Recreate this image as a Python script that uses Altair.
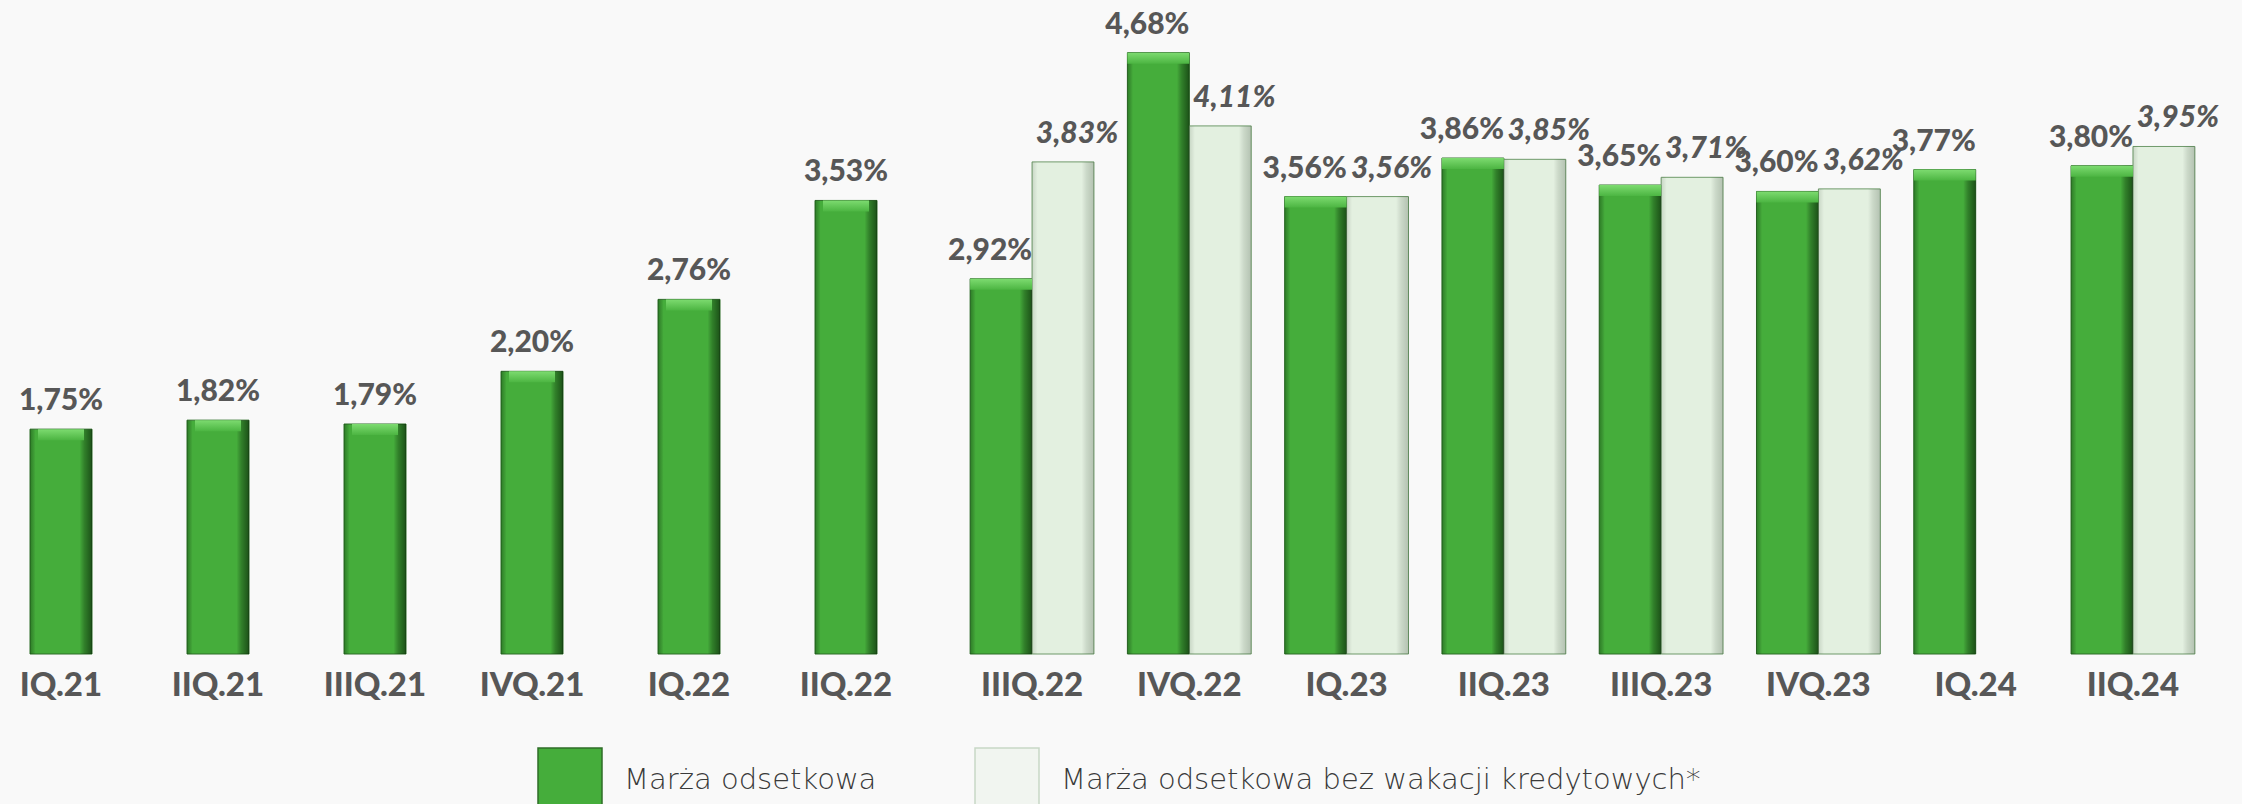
import altair as alt
import pandas as pd

# ---- data ----
categories = ["IQ.21", "IIQ.21", "IIIQ.21", "IVQ.21", "IQ.22", "IIQ.22",
              "IIIQ.22", "IVQ.22", "IQ.23", "IIQ.23", "IIIQ.23", "IVQ.23",
              "IQ.24", "IIQ.24"]
marza = [1.75, 1.82, 1.79, 2.20, 2.76, 3.53,
         2.92, 4.68, 3.56, 3.86, 3.65, 3.60, 3.77, 3.80]
bez_wakacji = [None, None, None, None, None, None,
               3.83, 4.11, 3.56, 3.85, 3.71, 3.62, None, 3.95]
series_names = ["Marża odsetkowa", "Marża odsetkowa bez wakacji kredytowych*"]
n_before = 6  # quarters before the credit-holiday comparison starts

rows = []
for i, c in enumerate(categories):
    grp = "pre" if i < n_before else "post"
    rows.append(dict(cat=c, series=series_names[0], value=marza[i], grp=grp))
    if bez_wakacji[i] is not None:
        rows.append(dict(cat=c, series=series_names[1], value=bez_wakacji[i], grp=grp))
df = pd.DataFrame(rows)
df["label"] = df["value"].map(lambda v: f"{v:.2f}".replace(".", ",") + "%")

left_cats = categories[:n_before]
right_cats = categories[n_before:]

DARK = "#45ad3b"
LIGHT = "#e3f0e0"
TXT = "#575757"
FONT_B = "Lato"
W_B = 900

y_enc = alt.Y("value:Q", scale=alt.Scale(domain=[0, 5.09], nice=False, zero=True), axis=None)
color_enc = alt.Color(
    "series:N",
    scale=alt.Scale(domain=series_names, range=[DARK, LIGHT]),
    legend=alt.Legend(
        title=None, orient="none", legendX=537, legendY=747, direction="horizontal",
        symbolType="square", symbolSize=4096, symbolStrokeWidth=1.5,
        symbolStrokeColor="#3d6b38", symbolOpacity=1,
        labelFont="DejaVu Sans", labelFontWeight=300, labelFontSize=29, labelColor="#3a3a3a",
        labelOffset=21, columnPadding=95, padding=0, labelLimit=900,
    ),
)
stroke_enc = alt.Stroke("series:N", scale=alt.Scale(domain=series_names, range=["#2f6e29", "#6f9a6a"]), legend=None)
opac_enc = alt.Opacity("series:N", scale=alt.Scale(domain=series_names, range=[1.0, 0.35]), legend=None)

shade = alt.LinearGradient(
    gradient="linear", x1=0, x2=1, y1=0, y2=0,
    stops=[
        alt.GradientStop(color="rgba(0,40,0,0.35)", offset=0),
        alt.GradientStop(color="rgba(0,0,0,0)", offset=0.09),
        alt.GradientStop(color="rgba(0,0,0,0)", offset=0.80),
        alt.GradientStop(color="rgba(0,20,0,0.30)", offset=0.88),
        alt.GradientStop(color="rgba(0,20,0,0.60)", offset=1),
    ],
)
highlight = alt.LinearGradient(
    gradient="linear", x1=0, x2=0, y1=0, y2=1,
    stops=[
        alt.GradientStop(color="#7ddb70", offset=0),
        alt.GradientStop(color="#4cb542", offset=1),
    ],
)

base = alt.Chart(df)
bar_w = 62

# ---- left group: single bars, centred in the band ----
x_left = alt.X("cat:N", sort=left_cats, axis=None,
               scale=alt.Scale(domain=left_cats, range=[-17.5, 924.5], paddingInner=0, paddingOuter=0))
left = base.transform_filter(alt.datum.grp == "pre")
left_layer = alt.layer(
    left.mark_bar(width=bar_w, strokeWidth=1).encode(x=x_left, y=y_enc, color=color_enc, stroke=stroke_enc),
    left.mark_bar(width=bar_w, fill=shade).encode(x=x_left, y=y_enc),
    left.mark_bar(width=bar_w - 16, fill=highlight, y2Offset=11).encode(x=x_left, y=y_enc, y2=alt.Y2("value:Q")),
    left.mark_text(dy=-19, baseline="alphabetic", font=FONT_B, fontWeight=W_B, fontSize=30, color=TXT)
        .encode(x=x_left, y=y_enc, text="label:N"),
    left.mark_text(dy=42, baseline="alphabetic", font=FONT_B, fontWeight=W_B, fontSize=33, color=TXT)
        .encode(x=x_left, y=alt.datum(0), text="cat:N"),
)

# ---- right group: paired bars ----
x_right = alt.X("cat:N", sort=right_cats, axis=None,
                scale=alt.Scale(domain=right_cats, range=[953.4, 2211.6], paddingInner=0, paddingOuter=0))
xo = alt.XOffset("series:N", scale=alt.Scale(domain=series_names, paddingInner=0, paddingOuter=0.27))
right = base.transform_filter(alt.datum.grp == "post")
right_dark = right.transform_filter(alt.datum.series == series_names[0])
right_light = right.transform_filter(alt.datum.series == series_names[1])
right_layer = alt.layer(
    right.mark_bar(strokeWidth=1).encode(x=x_right, xOffset=xo, y=y_enc, color=color_enc, stroke=stroke_enc),
    right.mark_bar(fill=shade).encode(x=x_right, xOffset=xo, y=y_enc, opacity=opac_enc),
    right_dark.mark_bar(fill=highlight, y2Offset=11, xOffset=8, x2Offset=-8)
        .encode(x=x_right, xOffset=xo, y=y_enc, y2=alt.Y2("value:Q")),
    right_dark.mark_text(dx=-11, dy=-19, baseline="alphabetic", font=FONT_B, fontWeight=W_B, fontSize=30, color=TXT)
        .encode(x=x_right, xOffset=xo, y=y_enc, text="label:N"),
    right_light.mark_text(dx=14, dy=-19, baseline="alphabetic", font=FONT_B, fontWeight=W_B, fontStyle="italic",
                          fontSize=30, color=TXT)
        .encode(x=x_right, xOffset=xo, y=y_enc, text="label:N"),
    right_dark.mark_text(dy=42, baseline="alphabetic", font=FONT_B, fontWeight=W_B, fontSize=33, color=TXT)
        .encode(x=x_right, y=alt.datum(0), text="cat:N"),
)

chart = (
    alt.layer(left_layer, right_layer)
    .resolve_scale(x="independent", xOffset="independent")
    .properties(
        width=2242, height=654,
        autosize=alt.AutoSizeParams(type="none"),
        padding={"left": 0, "top": 0, "right": 0, "bottom": 150},
        background="#f9f9f9",
    )
    .configure_view(stroke=None)
)

chart.save("out.html", embed_options={"renderer": "svg", "actions": False})
